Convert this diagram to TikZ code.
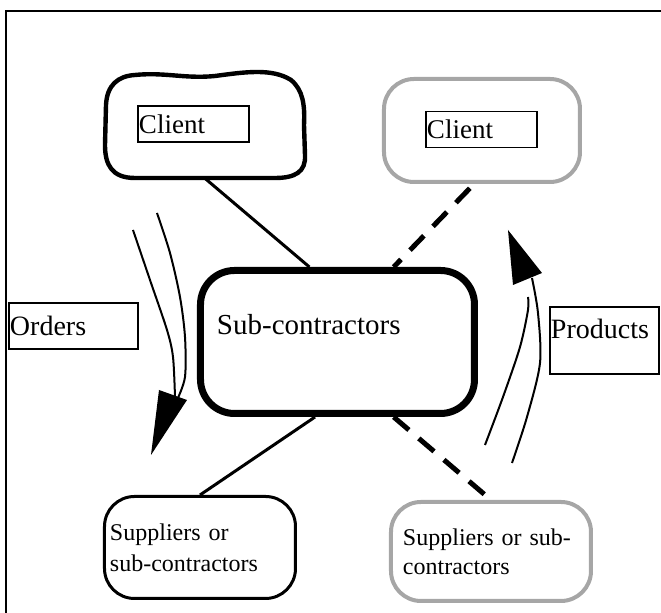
\documentclass[tikz,border=0pt]{standalone}
\usepackage{fontspec}
\setmainfont{Liberation Serif}
\usetikzlibrary{calc}

\begin{document}
\begin{tikzpicture}[x=0.5pt, y=-0.5pt,
    every node/.style={font=\fontsize{14}{16}\selectfont},
    tag/.style={draw, line width=0.7pt, inner xsep=0.5pt, inner ysep=0pt, align=left},
    party/.style={rounded corners=15pt, align=left},
    flow/.style={line width=1pt}]
    \useasboundingbox (0,0) rectangle (661,613);
    \draw[line width=1.25pt] (6,613) -- (6,11) -- (661,11);

    % clients
    \node[party, minimum width=100pt, minimum height=52pt] (cl) at (205,126) {};
    \draw[line width=2.2pt] (135,75) .. controls (165,72) and (185,79) .. (215,76)
        .. controls (245,72) and (272,68) .. (291,80) .. controls (303,90) and (305,105) .. (304,125)
        -- (305,155) .. controls (306,172) and (295,178) .. (275,178) -- (135,178)
        .. controls (112,178) and (105,165) .. (105,145) -- (106,105)
        .. controls (107,85) and (118,76) .. (135,75) -- cycle;
    \node[party, draw=gray!70, line width=2pt, minimum width=98pt, minimum height=51.5pt] (cr) at (482,130.5) {};
    \node[tag, text width=54.5pt, minimum height=18pt, font=\fontsize{13.5}{15}\selectfont] (cltag) at (193.5,124) {Client};
    \node[tag, text width=54.5pt, minimum height=18pt, font=\fontsize{13.5}{15}\selectfont] (crtag) at (481.5,129.5) {Client};

    % centre
    \node[draw, line width=3.5pt, rounded corners=17pt, align=left, text width=120.5pt,
        inner xsep=8.25pt, inner ysep=0pt, text height=32.25pt, text depth=39.25pt,
        font=\fontsize{14.5}{16}\selectfont] (sub) at (337.5,342) {Sub-contractors};

    % suppliers
    \node[party, draw, line width=1.5pt, minimum width=95.5pt, minimum height=51pt, text width=90pt,
        inner xsep=2.75pt, font=\fontsize{12}{15.5}\selectfont] (sl) at (200,547.5) {Suppliers or\\sub-contractors};
    \node[party, draw=gray!70, line width=2pt, minimum width=100pt, minimum height=49.5pt, text width=88pt,
        inner xsep=6pt, font=\fontsize{12}{14.5}\selectfont] (sr) at (491,551.5) {Suppliers or sub-\\contractors};

    \draw[line width=1.5pt] (cl.south) -- ($(sub.north west)!0.40!(sub.north east)$);
    \draw[line width=1.5pt] ($(sub.south west)!0.42!(sub.south east)$) -- (sl.north);
    \draw[line width=2.5pt, dash pattern=on 10pt off 6.5pt, shorten <=3pt]
        ($(cr.south west)!0.46!(cr.south east)$) -- ($(sub.north west)!0.70!(sub.north east)$);
    \draw[line width=2.5pt, dash pattern=on 10pt off 6.5pt]
        ($(sub.south west)!0.70!(sub.south east)$) -- (sr.north);

    % flows
    \node[tag, text width=63.5pt, minimum height=23pt] (orders) at (73.5,326) {Orders};
    \draw[flow] plot[smooth] coordinates {(133,230) (150,280) (167,330) (173,357) (175,397)};
    \draw[flow] plot[smooth] coordinates {(157,213) (170,253) (180,297) (185,337) (185,377) (177,400)};
    \fill (159,390) -- (187,400) -- (151,455) -- cycle;

    \node[tag, text width=53.5pt, inner ysep=3pt, text height=13pt, text depth=14.5pt] (products) at (604.5,340.5) {Products};
    \draw[flow] plot[smooth] coordinates {(485,445) (503,397) (520,347) (528,310) (528,297)};
    \draw[flow] plot[smooth] coordinates {(512,463) (527,417) (540,363) (538,313) (532,278)};
    \fill (513,285) -- (542,273) -- (508,230) -- cycle;
\end{tikzpicture}
\end{document}
